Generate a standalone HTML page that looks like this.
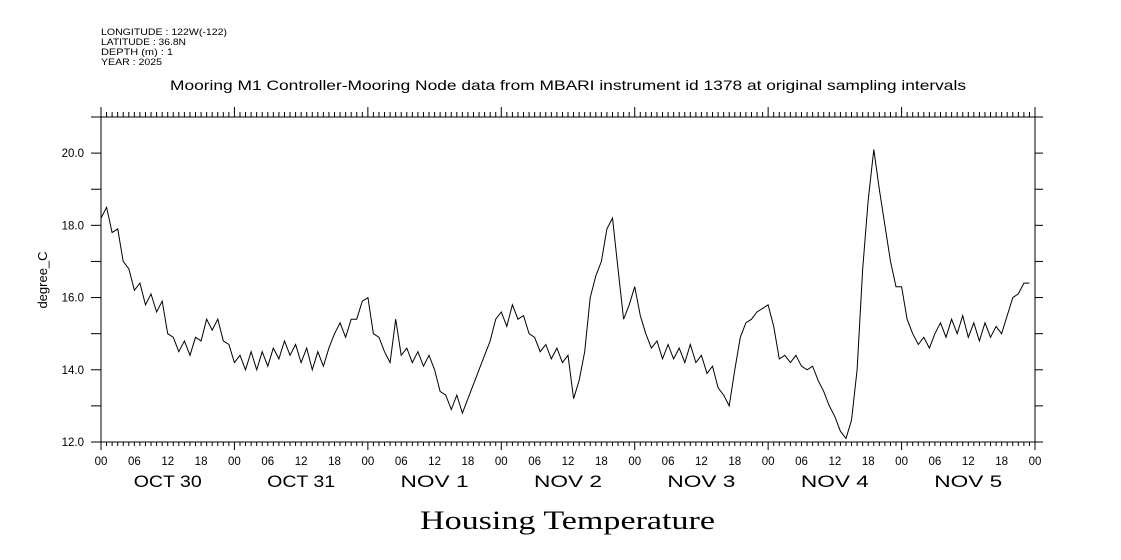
<!DOCTYPE html>
<html><head><meta charset="utf-8"><style>
body{margin:0;background:#fff}
svg{display:block}
text{font-family:"Liberation Sans",sans-serif;fill:#000}
</style></head><body>
<svg id="chart" width="1121" height="560">
<g font-size="9.5">
<text x="101" y="35" textLength="126" lengthAdjust="spacingAndGlyphs">LONGITUDE : 122W(-122)</text>
<text x="101" y="45" textLength="85" lengthAdjust="spacingAndGlyphs">LATITUDE : 36.8N</text>
<text x="101" y="55" textLength="72" lengthAdjust="spacingAndGlyphs">DEPTH (m) : 1</text>
<text x="101" y="65" textLength="61" lengthAdjust="spacingAndGlyphs">YEAR : 2025</text>
</g>
<text x="170" y="90" textLength="796" lengthAdjust="spacingAndGlyphs" font-size="14">Mooring M1 Controller-Mooring Node data from MBARI instrument id 1378 at original sampling intervals</text>
<text transform="translate(47,280) rotate(-90)" text-anchor="middle" font-size="13">degree_C</text>
<text x="420" y="529" textLength="295" lengthAdjust="spacingAndGlyphs" font-size="26" style="font-family:'Liberation Serif',serif">Housing Temperature</text>
<g id="axes"></g>
<path id="line" fill="none" stroke="#000" stroke-width="1"/>
</svg>
<script>
const yTicks=[12,13,14,15,16,17,18,19,20,21];
const yLabels=["12.0","14.0","16.0","18.0","20.0"];
const dayLabels=["OCT 30","OCT 31","NOV  1","NOV  2","NOV  3","NOV  4","NOV  5"];
const hourLabels=["00","06","12","18"];
const temps=[
18.2,18.5,17.8,17.9,17.0,16.8,16.2,16.4,15.8,16.1,15.6,15.9,
15.0,14.9,14.5,14.8,14.4,14.9,14.8,15.4,15.1,15.4,14.8,14.7,
14.2,14.4,14.0,14.5,14.0,14.5,14.1,14.6,14.3,14.8,14.4,14.7,
14.2,14.6,14.0,14.5,14.1,14.6,15.0,15.3,14.9,15.4,15.4,15.9,
16.0,15.0,14.9,14.5,14.2,15.4,14.4,14.6,14.2,14.5,14.1,14.4,
14.0,13.4,13.3,12.9,13.3,12.8,13.2,13.6,14.0,14.4,14.8,15.4,
15.6,15.2,15.8,15.4,15.5,15.0,14.9,14.5,14.7,14.3,14.6,14.2,
14.4,13.2,13.7,14.5,16.0,16.6,17.0,17.9,18.2,16.8,15.4,15.8,
16.3,15.5,15.0,14.6,14.8,14.3,14.7,14.3,14.6,14.2,14.7,14.2,
14.4,13.9,14.1,13.5,13.3,13.0,14.0,14.9,15.3,15.4,15.6,15.7,
15.8,15.2,14.3,14.4,14.2,14.4,14.1,14.0,14.1,13.7,13.4,13.0,
12.7,12.3,12.1,12.6,14.0,16.8,18.7,20.1,19.0,18.0,17.0,16.3,
16.3,15.4,15.0,14.7,14.9,14.6,15.0,15.3,14.9,15.4,15.0,15.5,
14.9,15.3,14.8,15.3,14.9,15.2,15.0,15.5,16.0,16.1,16.4,16.4];
const X0=101,X1=1035,Y0=442,Y1=117,HOURS=168,YMIN=12,YMAX=21;
const xs=h=>X0+(X1-X0)*h/HOURS;
const ys=v=>Y0-(Y0-Y1)*(v-YMIN)/(YMAX-YMIN);
const NS="http://www.w3.org/2000/svg";
const axes=document.getElementById('axes');
function ln(x1,y1,x2,y2,name){const l=document.createElementNS(NS,'line');
l.setAttribute('x1',x1);l.setAttribute('y1',y1);l.setAttribute('x2',x2);l.setAttribute('y2',y2);
l.setAttribute('stroke','#000');l.setAttribute('stroke-width','1');


axes.appendChild(l);}
function tx(x,y,s,size,anchor,name,len){const t=document.createElementNS(NS,'text');
t.setAttribute('x',x);t.setAttribute('y',y);t.setAttribute('font-size',size);t.setAttribute('text-anchor',anchor);t.textContent=s;
if(len){t.setAttribute('textLength',len);t.setAttribute('lengthAdjust','spacingAndGlyphs');}


axes.appendChild(t);}
ln(X0,107,X0,450,'left-axis');ln(X1,107,X1,450,'right-axis');
ln(91,Y1,1043,Y1,'top-axis');ln(91,Y0,1043,Y0,'bottom-axis');
yTicks.forEach(v=>{const y=ys(v);ln(91,y,X0,y,'y-tick-left');ln(X1,y,1043,y,'y-tick-right');});
yLabels.forEach(s=>tx(84,ys(parseFloat(s))+4,s,11.5,'end','y-tick-label'));
for(let h=0;h<=HOURS;h++){const x=xs(h);const big=h%24===0;
ln(x,Y1,x,big?107:112,'x-tick-top');ln(x,Y0,x,big?450:446,'x-tick-bottom');
if(h%6===0)tx(x,465,hourLabels[(h/6)%4],11.5,'middle','hour-label');}
dayLabels.forEach((s,i)=>tx(xs(i*24+12),487,s,17,'middle','day-label',68));
let d='';temps.forEach((v,i)=>{d+=(i?'L':'M')+xs(i).toFixed(1)+','+ys(v).toFixed(1);});
document.getElementById('line').setAttribute('d',d);
</script>
</body></html>
